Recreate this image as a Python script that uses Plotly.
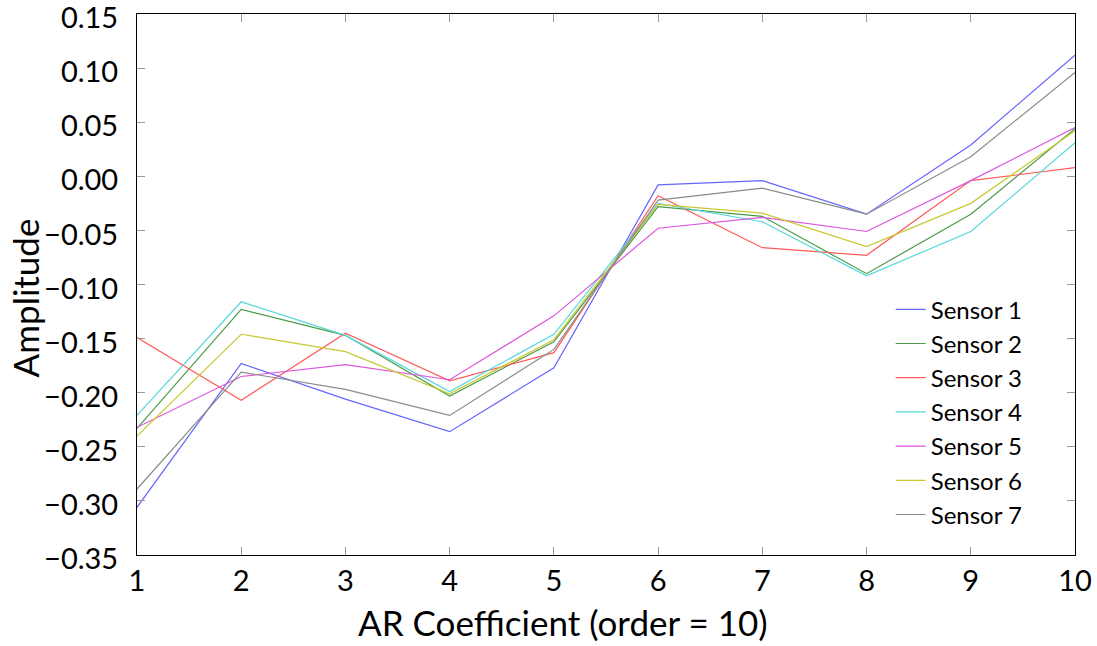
import plotly.graph_objects as go

coef = [1, 2, 3, 4, 5, 6, 7, 8, 9, 10]
sensor_names = ["Sensor 1", "Sensor 2", "Sensor 3", "Sensor 4", "Sensor 5", "Sensor 6", "Sensor 7"]
sensor1 = [-0.306, -0.173, -0.206, -0.236, -0.177, -0.008, -0.004, -0.035, 0.029, 0.112]
sensor2 = [-0.233, -0.123, -0.147, -0.203, -0.153, -0.028, -0.037, -0.090, -0.035, 0.044]
sensor3 = [-0.149, -0.207, -0.145, -0.189, -0.163, -0.018, -0.066, -0.073, -0.004, 0.008]
sensor4 = [-0.221, -0.116, -0.147, -0.199, -0.146, -0.025, -0.042, -0.092, -0.051, 0.031]
sensor5 = [-0.232, -0.185, -0.174, -0.188, -0.129, -0.048, -0.038, -0.051, -0.004, 0.045]
sensor6 = [-0.240, -0.146, -0.162, -0.201, -0.151, -0.026, -0.034, -0.065, -0.025, 0.042]
sensor7 = [-0.289, -0.181, -0.197, -0.221, -0.160, -0.022, -0.011, -0.035, 0.018, 0.096]
y_ticks = [0.15, 0.10, 0.05, 0.00, -0.05, -0.10, -0.15, -0.20, -0.25, -0.30, -0.35]
colors = ["#6464ff", "#4a9a4a", "#ff5a5a", "#55d8d8", "#dd55dd", "#c8c832", "#8c8c8c"]

series = [sensor1, sensor2, sensor3, sensor4, sensor5, sensor6, sensor7]

fig = go.Figure()
for name, vals, c in zip(sensor_names, series, colors):
    fig.add_trace(go.Scatter(x=coef, y=vals, mode="lines", name=name,
                             line=dict(color=c, width=1.2)))

fig.update_layout(
    width=1097, height=646,
    margin=dict(l=137, r=22, t=14, b=91),
    paper_bgcolor="white", plot_bgcolor="white",
    showlegend=True,
    legend=dict(x=0.8035, y=0.495, xanchor="left", yanchor="top",
                font=dict(family="Lato", size=24, color="black"),
                bgcolor="rgba(0,0,0,0)", tracegroupgap=0),
    xaxis=dict(range=[1, 10], tickvals=coef, ticktext=[str(v) for v in coef],
               automargin=False, ticklabeloverflow="allow",
               showgrid=False, zeroline=False, showline=True, linecolor="black", linewidth=1,
               mirror="ticks", ticks="inside", ticklen=8, tickcolor="#999999",
               tickfont=dict(family="Lato", size=29, color="black"), ticklabelstandoff=0),
    yaxis=dict(range=[-0.35, 0.15], tickvals=y_ticks,
               tickformat=".2f", automargin=False, ticklabeloverflow="allow",
               showgrid=False, zeroline=False, showline=True, linecolor="black", linewidth=1,
               mirror="ticks", ticks="inside", ticklen=8, tickcolor="#999999",
               tickfont=dict(family="Lato", size=29, color="black"), ticklabelstandoff=12,
               ticklabelshift=4),
    annotations=[
        dict(text="AR Coefficient (order = 10)", xref="paper", yref="paper",
             x=0.454, y=-0.124, xanchor="center", yanchor="middle", showarrow=False,
             font=dict(family="Lato", size=35, color="black")),
        dict(text="Amplitude", xref="paper", yref="paper", textangle=-90,
             x=-0.119, y=0.475, xanchor="center", yanchor="middle", showarrow=False,
             font=dict(family="Lato", size=35, color="black")),
    ],
)

fig.write_html("out.html", post_script="document.body.style.margin='0';",
               config={"displayModeBar": False})
